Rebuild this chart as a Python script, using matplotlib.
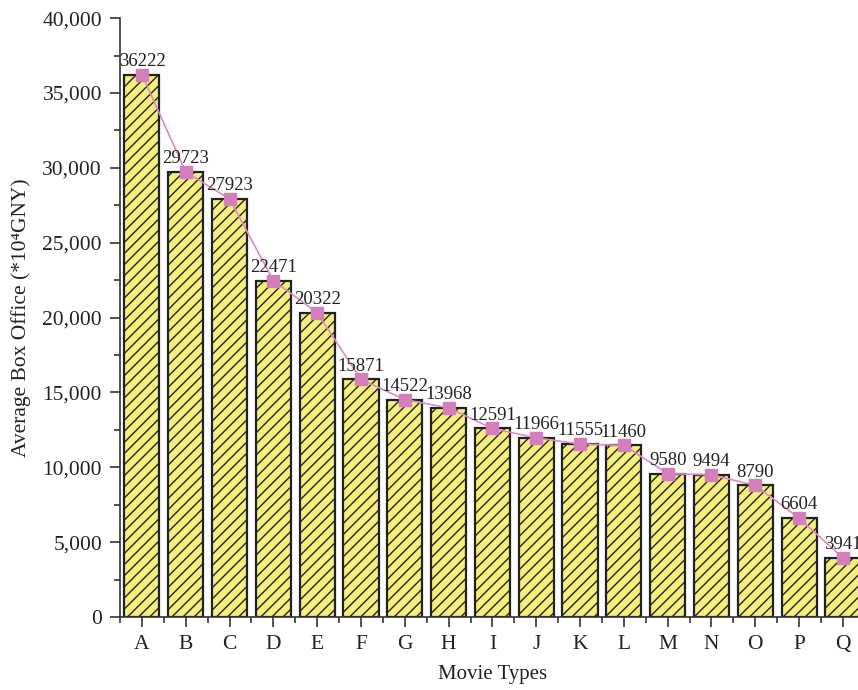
import matplotlib.pyplot as plt
from matplotlib.ticker import MultipleLocator, FuncFormatter

# data
types = list("ABCDEFGHIJKLMNOPQ")
box_office = [36222, 29723, 27923, 22471, 20322, 15871, 14522, 13968, 12591,
              11966, 11555, 11460, 9580, 9494, 8790, 6604, 3941]

plt.rcParams['font.family'] = ['Liberation Serif', 'DejaVu Serif']
plt.rcParams['hatch.linewidth'] = 1.0

fig = plt.figure(figsize=(8.58, 6.9), dpi=100)
ax = fig.add_axes([0.1399, 0.1058, 0.868, 0.868])

x = list(range(len(types)))
ax.bar(x, box_office, width=0.8, color='#f6ef7c', edgecolor='#222222',
       linewidth=1.6, hatch='///', zorder=2)
ax.plot(x, box_office, color='#d98cc4', linewidth=1.2, marker='s',
        markersize=9, markerfacecolor='#d47fbb', markeredgecolor='#d47fbb', zorder=3)

for xi, v in zip(x, box_office):
    ax.annotate(str(v), (xi, v), xytext=(0, 3.5), textcoords='offset points',
                ha='center', va='bottom', fontsize=13.5, color='#222222', zorder=4)

ax.set_xlim(-0.5, 16.5)
ax.set_ylim(0, 40000)
ax.set_xticks(x)
ax.set_xticklabels(types)
ax.xaxis.set_minor_locator(MultipleLocator(1, offset=0.5))
ax.yaxis.set_major_locator(MultipleLocator(5000))
ax.yaxis.set_minor_locator(MultipleLocator(2500))
ax.yaxis.set_major_formatter(FuncFormatter(lambda v, p: f'{int(v):,}'))

for s in ['top', 'right']:
    ax.spines[s].set_visible(False)
for s in ['left', 'bottom']:
    ax.spines[s].set_color('#333333')
    ax.spines[s].set_linewidth(1.2)

ax.tick_params(axis='both', which='major', direction='out', length=7, width=1.2,
               colors='#333333', labelsize=15.5, labelcolor='#222222', pad=6)
ax.tick_params(axis='both', which='minor', direction='out', length=4, width=1.2,
               colors='#333333')

ax.set_xlabel('Movie Types', fontsize=15, color='#222222', labelpad=8)
ax.set_ylabel('Average Box Office (*10⁴GNY)', fontsize=15.5, color='#222222', labelpad=8)

fig.savefig('out.png', dpi=100)
